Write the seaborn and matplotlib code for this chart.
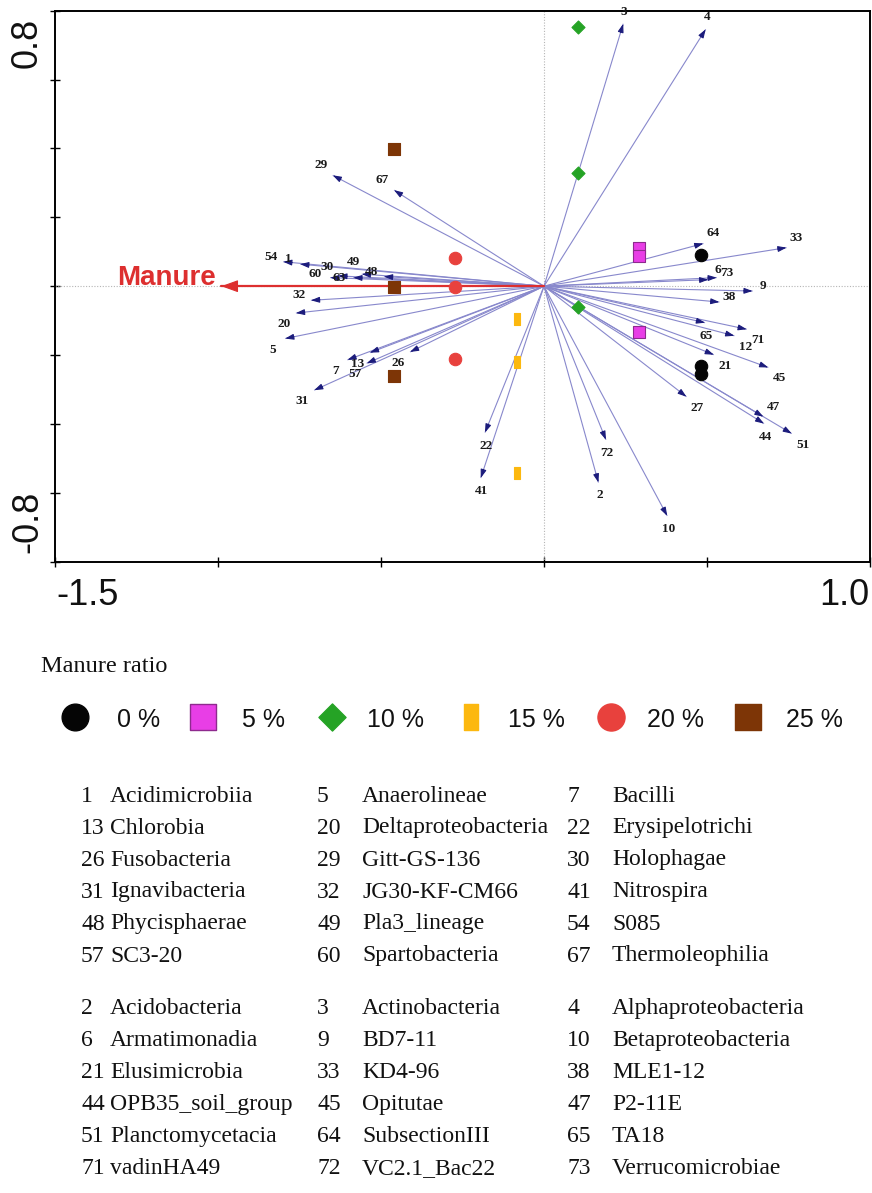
import numpy as np
import pandas as pd
import matplotlib
matplotlib.use("Agg")
import matplotlib.pyplot as plt
from matplotlib.path import Path
import seaborn as sns

# ------------------------------------------------------------------ data
ratio_levels = ["0 %", "5 %", "10 %", "15 %", "20 %", "25 %"]

sample_ratio = ["0 %"] * 3 + ["5 %"] * 3 + ["10 %"] * 3 + ["15 %"] * 3 + ["20 %"] * 3 + ["25 %"] * 3
sample_rda1 = [0.481, 0.481, 0.481,
               0.291, 0.291, 0.291,
               0.105, 0.105, 0.105,
               -0.084, -0.084, -0.084,
               -0.272, -0.272, -0.272,
               -0.460, -0.460, -0.460]
sample_rda2 = [0.091, -0.233, -0.254,
               0.112, 0.088, -0.132,
               0.753, 0.330, -0.060,
               -0.096, -0.220, -0.543,
               0.083, -0.001, -0.212,
               0.399, -0.001, -0.261]

species_id = ["1", "54", "29", "67", "60", "30", "63", "49", "48", "32", "20", "5",
              "7", "13", "57", "26", "31", "22", "41", "2", "72", "10", "3", "4",
              "64", "33", "6", "73", "9", "38", "65", "71", "12", "21", "45", "27",
              "47", "44", "51"]
species_rda1 = [-0.748, -0.800, -0.648, -0.460, -0.656, -0.631, -0.585, -0.559, -0.491,
                -0.715, -0.761, -0.794, -0.603, -0.534, -0.544, -0.411, -0.705, -0.181,
                -0.194, 0.167, 0.190, 0.378, 0.243, 0.496, 0.489, 0.744, 0.504, 0.530,
                0.640, 0.538, 0.494, 0.622, 0.584, 0.521, 0.688, 0.437, 0.673, 0.675, 0.760]
species_rda2 = [0.064, 0.071, 0.322, 0.279, 0.025, 0.030, 0.025, 0.035, 0.028,
                -0.041, -0.078, -0.152, -0.214, -0.193, -0.224, -0.191, -0.302, -0.425,
                -0.557, -0.570, -0.446, -0.667, 0.762, 0.746, 0.124, 0.112, 0.019, 0.025,
                -0.014, -0.046, -0.106, -0.125, -0.144, -0.199, -0.236, -0.321, -0.379,
                -0.399, -0.428]

env_name = "Manure"
env_rda1 = -0.99
env_rda2 = 0.0

x_ticks = [-1.5, -1.0, -0.5, 0.0, 0.5, 1.0]
y_ticks = [-0.8, -0.6, -0.4, -0.2, 0.0, 0.2, 0.4, 0.6, 0.8]
x_tick_labels = ["-1.5", "1.0"]
y_tick_labels = ["-0.8", "0.8"]

legend_title = "Manure ratio"

table1 = [
    [("1", "Acidimicrobiia"), ("5", "Anaerolineae"), ("7", "Bacilli")],
    [("13", "Chlorobia"), ("20", "Deltaproteobacteria"), ("22", "Erysipelotrichi")],
    [("26", "Fusobacteria"), ("29", "Gitt-GS-136"), ("30", "Holophagae")],
    [("31", "Ignavibacteria"), ("32", "JG30-KF-CM66"), ("41", "Nitrospira")],
    [("48", "Phycisphaerae"), ("49", "Pla3_lineage"), ("54", "S085")],
    [("57", "SC3-20"), ("60", "Spartobacteria"), ("67", "Thermoleophilia")],
]
table2 = [
    [("2", "Acidobacteria"), ("3", "Actinobacteria"), ("4", "Alphaproteobacteria")],
    [("6", "Armatimonadia"), ("9", "BD7-11"), ("10", "Betaproteobacteria")],
    [("21", "Elusimicrobia"), ("33", "KD4-96"), ("38", "MLE1-12")],
    [("44", "OPB35_soil_group"), ("45", "Opitutae"), ("47", "P2-11E")],
    [("51", "Planctomycetacia"), ("64", "SubsectionIII"), ("65", "TA18")],
    [("71", "vadinHA49"), ("72", "VC2.1_Bac22"), ("73", "Verrucomicrobiae")],
]

# ------------------------------------------------------------------ styling
W, H = 872, 1193
sns.set_theme(style="white")
plt.rcParams["font.family"] = ["Liberation Sans", "DejaVu Sans"]
SERIF = ["Liberation Serif", "DejaVu Serif"]
SANS = ["Liberation Sans", "DejaVu Sans"]

rect_path = Path([(-0.27, -0.5), (0.27, -0.5), (0.27, 0.5), (-0.27, 0.5), (-0.27, -0.5)],
                 [Path.MOVETO, Path.LINETO, Path.LINETO, Path.LINETO, Path.CLOSEPOLY])
diamond_path = Path([(0, -0.5), (0.5, 0), (0, 0.5), (-0.5, 0), (0, -0.5)],
                    [Path.MOVETO, Path.LINETO, Path.LINETO, Path.LINETO, Path.CLOSEPOLY])

group_style = {
    "0 %":  dict(marker="o", color="#050505", edge="#050505", s=80, ls=370),
    "5 %":  dict(marker="s", color="#e83ee6", edge="#8e2a8e", s=72, ls=340),
    "10 %": dict(marker=diamond_path, color="#25a325", edge="#25a325", s=88, ls=380),
    "15 %": dict(marker=rect_path, color="#fcb80f", edge="#fcb80f", s=80, ls=350),
    "20 %": dict(marker="o", color="#e8413d", edge="#e8413d", s=80, ls=380),
    "25 %": dict(marker="s", color="#7d3506", edge="#7d3506", s=72, ls=345),
}

# label placement around arrow tips (pixel offsets, y downward)
compass = {"NW": (-12, -10), "W": (-12, -5), "SW": (-12, 11), "S": (1, 13),
           "SE": (11, 11), "E": (10, -5), "NE": (10, -10), "N": (1, -12),
           "WL": (-15, -4), "WH": (-11, -9), "WLL": (-14, 0), "WHH": (-8, -12)}
label_side = {"29": "NW", "67": "NW", "54": "W", "1": "W", "60": "WL", "30": "WH",
              "63": "WLL", "49": "WHH", "48": "W", "32": "W", "20": "SW", "5": "SW",
              "7": "SW", "13": "SW", "57": "SW", "26": "SW", "31": "SW", "22": "S",
              "41": "S", "72": "S", "2": "S", "10": "S", "27": "SE", "3": "N", "4": "N",
              "64": "NE", "33": "NE", "6": "NE", "73": "E", "9": "E", "38": "E",
              "65": "S", "71": "SE", "12": "SE", "21": "SE", "45": "SE", "47": "NE",
              "44": "S", "51": "SE"}

LINE_C = "#8888cc"
HEAD_C = "#1c1c7c"
RED = "#dd2f2f"

# ------------------------------------------------------------------ figure
fig = plt.figure(figsize=(W / 100, H / 100), dpi=100)
fig.patch.set_facecolor("white")

def fpos(x, y):
    return x / W, 1 - y / H

ax_l, ax_r, ax_t, ax_b = 55, 870, 10.7, 561.7
ax = fig.add_axes([ax_l / W, 1 - ax_b / H, (ax_r - ax_l) / W, (ax_b - ax_t) / H])
ax.set_xlim(-1.5, 1.0)
ax.set_ylim(-0.8, 0.8)
ax.set_facecolor("white")
for sp in ax.spines.values():
    sp.set_color("black")
    sp.set_linewidth(1.4)
ax.set_xticks(x_ticks)
ax.set_yticks(y_ticks)
ax.set_xticklabels([])
ax.set_yticklabels([])
ax.tick_params(axis="both", direction="inout", length=7, width=1.0, color="black",
               bottom=True, left=True, top=False, right=False)
ax.grid(False)

# zero lines
ax.axhline(0, color="#b5b5b5", lw=0.8, ls=(0, (1, 1.5)), zorder=1)
ax.axvline(0, color="#b5b5b5", lw=0.8, ls=(0, (1, 1.5)), zorder=1)

fig.canvas.draw()
to_disp = ax.transData
to_data = ax.transData.inverted()

def head(x, y, back_px, color, style, mscale, z):
    p1 = to_disp.transform((x, y))
    p0 = to_disp.transform((0, 0))
    d = p1 - p0
    u = d / np.hypot(*d)
    pb = to_data.transform(p1 - u * back_px)
    ax.annotate("", xy=(x, y), xytext=(pb[0], pb[1]),
                arrowprops=dict(arrowstyle=style, color=color, lw=0.8,
                                shrinkA=0, shrinkB=0, mutation_scale=mscale),
                zorder=z)

# species arrows
species = pd.DataFrame({"id": species_id, "x": species_rda1, "y": species_rda2})
for _, r in species.iterrows():
    ax.plot([0, r.x], [0, r.y], color=LINE_C, lw=0.8, zorder=2, solid_capstyle="butt")
for _, r in species.iterrows():
    head(r.x, r.y, 9, HEAD_C, "-|>,head_length=0.5,head_width=0.17", 10, 3)
    dx, dy = compass[label_side[r.id]]
    ax.annotate(r.id, xy=(r.x, r.y), xytext=(dx, -dy), textcoords="offset pixels",
                ha="center", va="center", fontsize=9.5, fontweight="bold",
                family=SERIF, color="#1a1a1a", zorder=6)

# environmental arrow
ax.plot([0, env_rda1], [0, env_rda2], color=RED, lw=1.6, zorder=3)
head(env_rda1, env_rda2, 17, RED, "-|>,head_length=1.05,head_width=0.38", 10, 3.5)
ax.annotate(env_name, xy=(env_rda1, env_rda2), xytext=(-5, 1), textcoords="offset pixels",
            ha="right", va="baseline", fontsize=20, fontweight="bold", family=SANS,
            color=RED, zorder=6)

# samples
samples = pd.DataFrame({"ratio": sample_ratio, "x": sample_rda1, "y": sample_rda2})
for lvl in ratio_levels:
    st = group_style[lvl]
    sub = samples[samples.ratio == lvl]
    sns.scatterplot(data=sub, x="x", y="y", marker=st["marker"], color=st["color"],
                    edgecolor=st["edge"], linewidth=0.8, s=st["s"], ax=ax,
                    legend=False, zorder=5)
ax.set_xlabel("")
ax.set_ylabel("")

# tick labels at axis ends
tick_font = dict(fontsize=26, family=SANS, color="#111111")
fig.text(*fpos(56, 605), x_tick_labels[0], ha="left", va="baseline", **tick_font)
fig.text(*fpos(869, 605), x_tick_labels[1], ha="right", va="baseline", **tick_font)
fig.text(*fpos(37, 18), y_tick_labels[1], ha="right", va="baseline", rotation=90,
         rotation_mode="anchor", **tick_font)
fig.text(*fpos(37, 553), y_tick_labels[0], ha="left", va="baseline", rotation=90,
         rotation_mode="anchor", **tick_font)

# ------------------------------------------------------------------ legend
lax = fig.add_axes([0, 0, 1, 1], facecolor="none")
lax.set_xlim(0, W)
lax.set_ylim(H, 0)
lax.axis("off")

fig.text(*fpos(41, 672), legend_title, ha="left", va="baseline", fontsize=17.5,
         family=SERIF, color="#111111")
marker_x = [75, 203, 332, 471, 611, 748]
text_x = [117, 242, 367, 508, 647, 786]
for lvl, mx, tx in zip(ratio_levels, marker_x, text_x):
    st = group_style[lvl]
    lax.scatter([mx], [717], marker=st["marker"], s=st["ls"], color=st["color"],
                edgecolors=st["edge"], linewidths=1.0)
    fig.text(*fpos(tx, 727), lvl, ha="left", va="baseline", fontsize=18,
             family=SANS, color="#111111")

# ------------------------------------------------------------------ tables
num_x = [81, 317, 567]
name_x = [110, 362, 612]
for table, y0 in ((table1, 801.5), (table2, 1014)):
    for i, row in enumerate(table):
        yb = y0 + 32 * i
        for j, (num, name) in enumerate(row):
            fig.text(*fpos(num_x[j], yb), num, ha="left", va="baseline",
                     fontsize=17, family=SERIF, color="#111111")
            fig.text(*fpos(name_x[j], yb), name, ha="left", va="baseline",
                     fontsize=17, family=SERIF, color="#111111")

fig.savefig("out.png", dpi=100, facecolor="white")
